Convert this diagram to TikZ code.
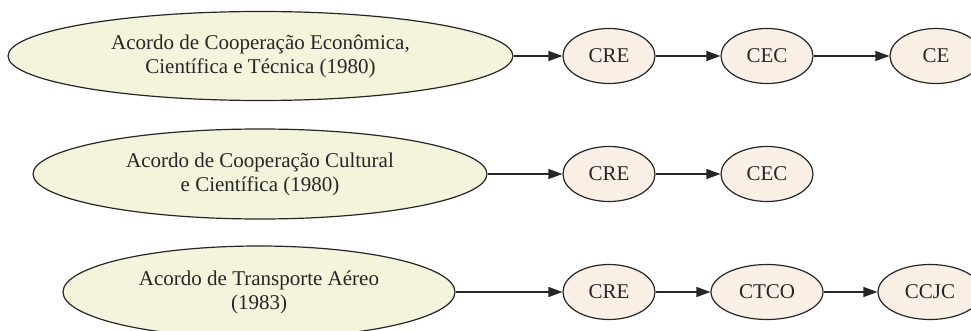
\documentclass[tikz,border=0pt]{standalone}
\usepackage{fontspec}
\setmainfont{Liberation Serif}
\usetikzlibrary{shapes.geometric,arrows.meta}
\definecolor{bigfill}{HTML}{F4F4DC}
\definecolor{smallfill}{HTML}{FAEFE5}
\begin{document}
\begin{tikzpicture}[x=1pt,y=-1pt,
  every node/.style={font=\fontsize{21}{24}\selectfont, text=black!85},
  acordo/.style={ellipse, draw=black!85, line width=1.2pt, fill=bigfill, inner sep=0pt, align=center},
  org/.style={ellipse, draw=black!85, line width=1.2pt, fill=smallfill, inner sep=0pt, minimum height=55pt},
  link/.style={draw=black!85, line width=1.2pt, -{Triangle[length=14pt,width=10pt]}}]
\useasboundingbox (0,0) rectangle (971,331);
% row 1
\node[acordo, minimum width=505pt, minimum height=89pt] (a1) at (260.5,56) {Acordo de Cooperação Econômica,\\Científica e Técnica (1980)};
\node[org, minimum width=92pt] (cre1) at (609,56) {CRE};
\node[org, minimum width=92pt] (cec1) at (767,56) {CEC};
\node[org, minimum width=92pt] (ce1) at (936,56) {CE};
% row 2
\node[acordo, minimum width=454pt, minimum height=90pt] (a2) at (260,174) {Acordo de Cooperação Cultural\\e Científica (1980)};
\node[org, minimum width=92pt] (cre2) at (609,174) {CRE};
\node[org, minimum width=92pt] (cec2) at (767,174) {CEC};
% row 3
\node[acordo, minimum width=392pt, minimum height=92pt] (a3) at (259,292) {Acordo de Transporte Aéreo\\(1983)};
\node[org, minimum width=92pt] (cre3) at (609,292) {CRE};
\node[org, minimum width=112pt] (ctco3) at (767,292) {CTCO};
\node[org, minimum width=104pt] (ccjc3) at (930,292) {CCJC};
% edges
\draw[link] (a1) -- (cre1);
\draw[link] (cre1) -- (cec1);
\draw[link] (cec1) -- (ce1);
\draw[link] (a2) -- (cre2);
\draw[link] (cre2) -- (cec2);
\draw[link] (a3) -- (cre3);
\draw[link] (cre3) -- (ctco3);
\draw[link] (ctco3) -- (ccjc3);
\end{tikzpicture}
\end{document}
